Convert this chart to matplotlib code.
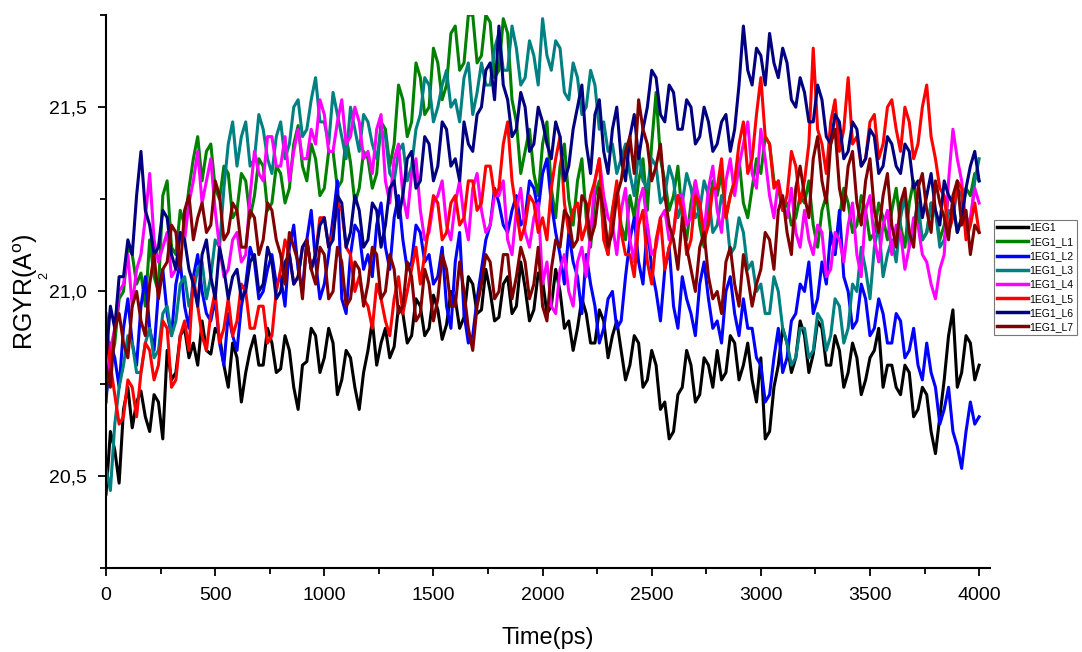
import numpy as np
import matplotlib
matplotlib.use("Agg")
import matplotlib.pyplot as plt
from matplotlib.ticker import MultipleLocator, FuncFormatter

plt.rcParams["font.family"] = ["Liberation Sans", "DejaVu Sans"]
plt.rcParams["mathtext.fontset"] = "custom"
plt.rcParams["mathtext.rm"] = "Liberation Sans"

# radius of gyration traces, one value every 20 ps
time_ps = np.arange(0, 4001, 20)

rg_1eg1 = [
    20.45, 20.62, 20.57, 20.48, 20.68, 20.74, 20.63, 20.70, 20.73, 20.66,
    20.62, 20.72, 20.70, 20.60, 20.84, 20.76, 20.78, 20.88, 20.90, 20.82,
    20.86, 20.80, 20.92, 20.84, 20.83, 20.90, 20.88, 20.80, 20.74, 20.86,
    20.82, 20.70, 20.78, 20.84, 20.88, 20.80, 20.80, 20.90, 20.86, 20.78,
    20.79, 20.88, 20.84, 20.74, 20.68, 20.80, 20.81, 20.90, 20.88, 20.78,
    20.82, 20.90, 20.86, 20.72, 20.76, 20.84, 20.82, 20.74, 20.68, 20.78,
    20.84, 20.92, 20.80, 20.86, 20.90, 20.82, 20.85, 20.96, 20.94, 20.86,
    20.88, 20.98, 20.96, 20.88, 20.90, 20.99, 20.95, 20.87, 20.91, 21.00,
    20.98, 20.90, 20.93, 21.04, 21.02, 20.94, 20.95, 21.06, 21.00, 20.92,
    20.93, 21.02, 21.04, 20.94, 20.96, 21.08, 21.01, 20.92, 20.95, 21.05,
    21.03, 20.94, 20.96, 21.06, 21.00, 20.90, 20.92, 20.84, 20.90, 20.98,
    20.94, 20.86, 20.86, 20.95, 20.92, 20.82, 20.88, 20.92, 20.84, 20.76,
    20.80, 20.88, 20.86, 20.74, 20.76, 20.84, 20.80, 20.68, 20.70, 20.60,
    20.62, 20.72, 20.74, 20.84, 20.80, 20.70, 20.72, 20.82, 20.80, 20.74,
    20.84, 20.76, 20.78, 20.88, 20.86, 20.76, 20.80, 20.86, 20.76, 20.70,
    20.82, 20.60, 20.62, 20.74, 20.80, 20.90, 20.86, 20.78, 20.82, 20.92,
    20.88, 20.78, 20.83, 20.92, 20.90, 20.80, 20.80, 20.88, 20.84, 20.74,
    20.78, 20.86, 20.82, 20.72, 20.76, 20.82, 20.84, 20.90, 20.74, 20.80,
    20.80, 20.74, 20.72, 20.80, 20.78, 20.66, 20.68, 20.74, 20.72, 20.62,
    20.56, 20.66, 20.76, 20.88, 20.95, 20.74, 20.78, 20.88, 20.86, 20.76,
    20.80,
]
rg_l1 = [
    20.72, 20.80, 20.86, 20.98, 21.00, 21.12, 21.10, 21.02, 21.05, 20.96,
    21.14, 21.04, 21.00, 21.26, 21.30, 21.12, 21.10, 21.22, 21.18, 21.28,
    21.36, 21.42, 21.30, 21.38, 21.40, 21.28, 21.25, 21.34, 21.32, 21.20,
    21.22, 21.32, 21.30, 21.20, 21.26, 21.36, 21.34, 21.22, 21.24, 21.34,
    21.32, 21.24, 21.28, 21.40, 21.45, 21.34, 21.30, 21.40, 21.36, 21.26,
    21.28, 21.38, 21.38, 21.28, 21.30, 21.42, 21.35, 21.24, 21.28, 21.38,
    21.36, 21.28, 21.32, 21.46, 21.44, 21.34, 21.40, 21.56, 21.52, 21.42,
    21.46, 21.62, 21.58, 21.48, 21.50, 21.66, 21.62, 21.52, 21.56, 21.70,
    21.72, 21.60, 21.62, 21.75, 21.75, 21.62, 21.64, 21.75, 21.73, 21.58,
    21.60, 21.74, 21.70, 21.52, 21.46, 21.32, 21.38, 21.44, 21.32, 21.26,
    21.40, 21.46, 21.28, 21.20, 21.34, 21.40, 21.25, 21.18, 21.30, 21.36,
    21.20, 21.12, 21.26, 21.30, 21.16, 21.10, 21.22, 21.28, 21.18, 21.14,
    21.26, 21.20, 21.30, 21.36, 21.22, 21.40, 21.54, 21.36, 21.30, 21.22,
    21.26, 21.34, 21.20, 21.14, 21.24, 21.30, 21.18, 21.12, 21.22, 21.30,
    21.26, 21.32, 21.20, 21.26, 21.30, 21.36, 21.24, 21.20, 21.28, 21.36,
    21.32, 21.42, 21.40, 21.30, 21.28, 21.22, 21.24, 21.18, 21.20, 21.26,
    21.24, 21.30, 21.18, 21.12, 21.22, 21.26, 21.16, 21.10, 21.20, 21.28,
    21.24, 21.16, 21.18, 21.26, 21.22, 21.14, 21.16, 21.24, 21.20, 21.14,
    21.22, 21.28, 21.18, 21.12, 21.24, 21.30, 21.20, 21.14, 21.16, 21.24,
    21.22, 21.14, 21.18, 21.26, 21.24, 21.16, 21.20, 21.28, 21.26, 21.32,
    21.30,
]
rg_l2 = [
    20.70, 20.86, 20.82, 20.74, 20.90, 20.98, 20.86, 20.80, 20.96, 21.04,
    20.90, 20.84, 21.00, 21.06, 20.94, 20.88, 21.02, 21.08, 20.96, 20.90,
    21.04, 21.10, 21.00, 20.94, 20.92, 20.98, 20.86, 20.80, 20.94, 20.88,
    20.84, 20.96, 21.02, 21.12, 21.08, 20.98, 21.00, 21.06, 21.10, 21.02,
    21.04, 20.96, 21.12, 21.18, 21.06, 21.00, 21.14, 21.22, 21.08, 20.98,
    21.02, 21.10, 21.20, 21.30, 20.98, 20.94, 21.10, 21.18, 21.16, 21.06,
    21.10, 21.04, 21.18, 21.24, 21.12, 21.06, 21.20, 21.26, 21.14, 21.06,
    21.08, 21.18, 21.16, 21.08, 21.10, 21.02, 21.04, 21.12, 20.96, 20.90,
    21.08, 21.16, 20.94, 20.86, 20.88, 20.98, 21.06, 21.14, 21.18, 21.28,
    21.24, 21.18, 21.16, 21.22, 21.26, 21.18, 21.20, 21.30, 21.28, 21.22,
    21.32, 21.36, 21.24, 21.16, 21.10, 21.02, 21.16, 21.08, 21.04, 20.94,
    21.10, 21.02, 20.96, 20.86, 20.90, 20.98, 21.00, 20.90, 20.92, 21.04,
    21.14, 21.20, 21.08, 21.02, 21.18, 21.06, 21.00, 20.92, 21.06, 21.12,
    20.96, 20.90, 21.04, 20.98, 20.94, 20.88, 21.02, 21.08, 20.98, 20.90,
    20.92, 20.86, 21.00, 21.04, 20.94, 20.88, 20.98, 20.90, 20.90, 20.82,
    20.80, 20.70, 20.72, 20.82, 20.90, 20.78, 20.82, 20.92, 20.94, 21.02,
    21.00, 21.08, 20.94, 20.98, 21.08, 21.02, 21.16, 21.10, 21.22, 21.04,
    21.00, 20.90, 20.92, 21.02, 20.98, 20.88, 20.90, 20.98, 20.94, 20.86,
    20.86, 20.94, 20.92, 20.82, 20.84, 20.90, 20.80, 20.76, 20.86, 20.78,
    20.74, 20.64, 20.68, 20.74, 20.62, 20.58, 20.52, 20.62, 20.70, 20.64,
    20.66,
]
rg_l3 = [
    20.52, 20.46, 20.64, 20.74, 20.80, 20.88, 20.86, 20.78, 20.78, 20.86,
    20.90, 20.82, 20.84, 20.94, 20.96, 20.88, 20.92, 21.02, 21.04, 20.96,
    21.00, 21.06, 21.08, 20.98, 21.04, 21.14, 21.12, 21.28, 21.40, 21.46,
    21.34, 21.42, 21.46, 21.34, 21.36, 21.48, 21.44, 21.36, 21.32, 21.42,
    21.46, 21.36, 21.40, 21.50, 21.52, 21.42, 21.44, 21.52, 21.58, 21.46,
    21.46, 21.40, 21.54, 21.48, 21.42, 21.36, 21.50, 21.44, 21.38, 21.48,
    21.46, 21.40, 21.36, 21.44, 21.42, 21.32, 21.30, 21.38, 21.40, 21.30,
    21.34, 21.44, 21.48, 21.58, 21.56, 21.46, 21.50, 21.56, 21.60, 21.50,
    21.52, 21.46, 21.58, 21.62, 21.48, 21.54, 21.62, 21.56, 21.56, 21.66,
    21.70, 21.60, 21.60, 21.72, 21.66, 21.56, 21.58, 21.68, 21.64, 21.56,
    21.74, 21.64, 21.60, 21.68, 21.66, 21.54, 21.52, 21.62, 21.58, 21.48,
    21.50, 21.60, 21.56, 21.44, 21.46, 21.38, 21.40, 21.32, 21.36, 21.40,
    21.32, 21.26, 21.38, 21.30, 21.28, 21.36, 21.34, 21.24, 21.26, 21.34,
    21.30, 21.20, 21.24, 21.32, 21.28, 21.20, 21.22, 21.30, 21.26, 21.16,
    21.18, 21.26, 21.22, 21.10, 21.12, 21.20, 21.16, 21.06, 21.08, 21.00,
    21.02, 20.94, 20.94, 21.04, 21.00, 20.90, 20.86, 20.80, 20.82, 20.90,
    20.90, 20.82, 20.84, 20.94, 20.92, 20.84, 20.88, 20.98, 20.96, 20.86,
    20.90, 21.02, 21.00, 21.12, 21.06, 20.98, 21.12, 21.18, 21.04, 21.10,
    21.14, 21.08, 21.20, 21.26, 21.12, 21.18, 21.24, 21.14, 21.16, 21.24,
    21.22, 21.12, 21.14, 21.22, 21.20, 21.28, 21.26, 21.16, 21.18, 21.30,
    21.36,
]
rg_l4 = [
    20.76, 20.84, 20.90, 21.00, 21.02, 21.10, 20.96, 21.06, 21.10, 21.20,
    21.32, 21.14, 21.08, 21.12, 21.16, 21.04, 21.06, 21.16, 21.14, 21.24,
    21.30, 21.38, 21.24, 21.30, 21.36, 21.22, 21.12, 21.04, 21.06, 21.14,
    21.16, 21.08, 21.10, 21.26, 21.38, 21.32, 21.30, 21.42, 21.42, 21.34,
    21.34, 21.42, 21.30, 21.38, 21.44, 21.36, 21.36, 21.44, 21.40, 21.52,
    21.48, 21.38, 21.38, 21.46, 21.52, 21.40, 21.42, 21.50, 21.46, 21.36,
    21.38, 21.32, 21.44, 21.48, 21.30, 21.24, 21.36, 21.40, 21.26, 21.20,
    21.32, 21.36, 21.22, 21.14, 21.16, 21.24, 21.26, 21.30, 21.18, 21.14,
    21.24, 21.30, 21.20, 21.14, 21.28, 21.32, 21.22, 21.16, 21.18, 21.26,
    21.26, 21.30, 21.14, 21.10, 21.22, 21.28, 21.16, 21.12, 21.20, 21.24,
    21.02, 21.08, 20.96, 20.94, 21.06, 21.10, 21.00, 20.96, 21.08, 21.12,
    21.04, 21.16, 21.30, 21.36, 21.26, 21.20, 21.18, 21.10, 21.22, 21.28,
    21.14, 21.08, 21.24, 21.28, 21.18, 21.10, 21.12, 21.20, 21.22, 21.14,
    21.16, 21.26, 21.26, 21.18, 21.20, 21.30, 21.24, 21.16, 21.28, 21.34,
    21.22, 21.16, 21.30, 21.36, 21.26, 21.34, 21.40, 21.46, 21.32, 21.28,
    21.44, 21.36, 21.26, 21.20, 21.30, 21.24, 21.20, 21.28, 21.16, 21.12,
    21.22, 21.14, 21.10, 21.18, 21.16, 21.04, 21.06, 21.16, 21.14, 21.08,
    21.18, 21.24, 21.10, 21.04, 21.22, 21.26, 21.14, 21.08, 21.18, 21.22,
    21.10, 21.18, 21.16, 21.06, 21.12, 21.20, 21.18, 21.10, 21.08, 21.02,
    20.98, 21.06, 21.10, 21.30, 21.44, 21.36, 21.30, 21.18, 21.20, 21.28,
    21.24,
]
rg_l5 = [
    20.94, 20.80, 20.72, 20.64, 20.66, 20.76, 20.74, 20.66, 20.78, 20.86,
    20.84, 20.76, 20.80, 20.92, 20.90, 20.74, 20.76, 20.88, 20.92, 20.84,
    21.04, 20.96, 20.88, 20.84, 20.94, 21.00, 20.86, 20.90, 20.98, 20.88,
    20.92, 21.02, 21.00, 20.90, 20.90, 20.96, 20.96, 20.86, 20.88, 21.00,
    21.06, 21.14, 21.10, 21.02, 21.04, 21.12, 21.14, 21.06, 21.10, 21.20,
    21.20, 21.12, 21.16, 21.24, 21.22, 21.12, 21.10, 21.00, 21.04, 20.98,
    20.96, 20.90, 21.02, 20.98, 20.92, 20.88, 20.98, 21.04, 20.94, 21.00,
    21.06, 21.12, 21.02, 21.10, 21.18, 21.26, 21.24, 21.14, 21.16, 21.24,
    21.26, 21.18, 21.20, 21.30, 21.30, 21.22, 21.24, 21.34, 21.34, 21.26,
    21.28, 21.40, 21.46, 21.30, 21.22, 21.14, 21.18, 21.26, 21.24, 21.16,
    21.20, 21.14, 21.28, 21.36, 21.42, 21.24, 21.16, 21.22, 21.24, 21.14,
    21.18, 21.26, 21.30, 21.36, 21.14, 21.10, 21.22, 21.30, 21.16, 21.10,
    21.10, 21.04, 21.18, 21.22, 21.08, 21.02, 21.14, 21.20, 21.06, 21.12,
    21.16, 21.26, 21.22, 21.10, 21.14, 21.26, 21.24, 21.14, 21.18, 21.28,
    21.28, 21.36, 21.20, 21.26, 21.30, 21.40, 21.46, 21.32, 21.36, 21.48,
    21.58, 21.42, 21.40, 21.28, 21.30, 21.22, 21.26, 21.38, 21.34, 21.24,
    21.30, 21.40, 21.66, 21.44, 21.40, 21.32, 21.46, 21.52, 21.38, 21.44,
    21.58, 21.40, 21.42, 21.34, 21.36, 21.46, 21.48, 21.36, 21.40, 21.50,
    21.52, 21.44, 21.38, 21.50, 21.46, 21.36, 21.40, 21.50, 21.56, 21.42,
    21.36, 21.28, 21.26, 21.16, 21.20, 21.30, 21.28, 21.14, 21.18, 21.24,
    21.16,
]
rg_l6 = [
    20.82, 20.96, 20.90, 21.04, 21.04, 21.14, 21.10, 21.26, 21.38, 21.22,
    21.18, 21.10, 21.12, 21.22, 21.20, 21.10, 21.06, 21.16, 21.14, 21.06,
    21.02, 20.96, 21.10, 21.14, 21.04, 20.98, 21.12, 21.06, 20.98, 21.04,
    21.06, 20.98, 21.00, 21.08, 21.10, 21.00, 21.02, 21.12, 21.08, 20.98,
    21.00, 21.08, 21.10, 21.02, 21.04, 21.12, 21.14, 21.06, 21.10, 21.18,
    21.20, 21.12, 21.14, 21.26, 21.24, 21.12, 21.16, 21.26, 21.22, 21.12,
    21.14, 21.24, 21.22, 21.12, 21.18, 21.28, 21.30, 21.20, 21.26, 21.36,
    21.38, 21.28, 21.30, 21.42, 21.40, 21.30, 21.34, 21.46, 21.44, 21.34,
    21.36, 21.30, 21.46, 21.40, 21.38, 21.48, 21.50, 21.60, 21.62, 21.52,
    21.72, 21.56, 21.52, 21.42, 21.44, 21.54, 21.50, 21.38, 21.40, 21.50,
    21.46, 21.40, 21.36, 21.46, 21.42, 21.30, 21.34, 21.44, 21.50, 21.56,
    21.40, 21.32, 21.48, 21.52, 21.38, 21.32, 21.44, 21.50, 21.36, 21.30,
    21.42, 21.48, 21.36, 21.44, 21.50, 21.60, 21.58, 21.48, 21.46, 21.56,
    21.54, 21.44, 21.44, 21.52, 21.50, 21.40, 21.42, 21.50, 21.46, 21.38,
    21.40, 21.46, 21.48, 21.38, 21.44, 21.56, 21.72, 21.60, 21.56, 21.66,
    21.64, 21.56, 21.70, 21.62, 21.58, 21.66, 21.62, 21.52, 21.50, 21.58,
    21.54, 21.46, 21.46, 21.56, 21.52, 21.42, 21.40, 21.48, 21.46, 21.36,
    21.38, 21.46, 21.44, 21.34, 21.36, 21.44, 21.42, 21.32, 21.34, 21.42,
    21.40, 21.34, 21.32, 21.40, 21.38, 21.28, 21.30, 21.20, 21.26, 21.32,
    21.22, 21.18, 21.30, 21.26, 21.24, 21.16, 21.20, 21.28, 21.34, 21.38,
    21.30,
]
rg_l7 = [
    20.80, 20.74, 20.90, 20.94, 20.86, 20.82, 20.96, 21.00, 20.92, 20.88,
    21.02, 21.10, 20.98, 21.06, 21.08, 21.18, 21.16, 21.06, 21.22, 21.26,
    21.14, 21.20, 21.24, 21.16, 21.18, 21.30, 21.26, 21.14, 21.16, 21.24,
    21.22, 21.12, 21.12, 21.22, 21.20, 21.10, 21.14, 21.24, 21.22, 21.14,
    21.10, 21.02, 21.16, 21.12, 21.08, 20.98, 21.14, 21.06, 21.02, 21.12,
    21.10, 20.98, 21.00, 21.12, 21.08, 20.96, 20.98, 21.08, 21.06, 20.96,
    21.02, 21.12, 21.10, 20.98, 21.00, 21.10, 21.06, 20.94, 20.96, 21.08,
    21.04, 20.92, 20.94, 21.06, 21.02, 20.92, 20.98, 21.10, 21.06, 20.96,
    20.96, 21.08, 21.00, 20.90, 20.84, 20.96, 21.02, 21.10, 21.08, 20.98,
    21.00, 21.10, 21.10, 20.98, 21.04, 21.12, 21.08, 20.98, 21.02, 21.12,
    20.96, 20.92, 21.06, 21.14, 21.12, 21.22, 21.20, 21.12, 21.14, 21.26,
    21.24, 21.14, 21.18, 21.28, 21.22, 21.12, 21.16, 21.26, 21.30, 21.38,
    21.42, 21.32, 21.52, 21.44, 21.40, 21.30, 21.34, 21.40, 21.26, 21.18,
    21.14, 21.06, 21.20, 21.12, 21.06, 21.00, 21.12, 21.16, 21.04, 20.98,
    21.00, 20.94, 21.08, 21.12, 21.02, 20.96, 21.10, 21.04, 20.96, 21.02,
    21.06, 21.16, 21.14, 21.06, 21.22, 21.26, 21.16, 21.10, 21.28, 21.34,
    21.26, 21.20, 21.36, 21.42, 21.30, 21.24, 21.40, 21.44, 21.28, 21.22,
    21.34, 21.38, 21.24, 21.18, 21.30, 21.36, 21.22, 21.16, 21.26, 21.32,
    21.18, 21.12, 21.24, 21.28, 21.16, 21.12, 21.28, 21.32, 21.22, 21.16,
    21.30, 21.24, 21.20, 21.14, 21.26, 21.30, 21.18, 21.22, 21.10, 21.18,
    21.16,
]

labels = ["1EG1", "1EG1_L1", "1EG1_L2", "1EG1_L3",
          "1EG1_L4", "1EG1_L5", "1EG1_L6", "1EG1_L7"]
series = [rg_1eg1, rg_l1, rg_l2, rg_l3, rg_l4, rg_l5, rg_l6, rg_l7]
colors = ["#000000", "#008000", "#0000FF", "#008080",
          "#FF00FF", "#FF0000", "#000080", "#800000"]

fig = plt.figure(figsize=(10.82, 6.52), dpi=100)
ax = fig.add_axes([0.098, 0.129, 0.817, 0.848])

for vals, lab, col in zip(series, labels, colors):
    ax.plot(time_ps, vals, color=col, lw=2.2, label=lab)

ax.set_xlim(0, 4050)
ax.set_ylim(20.25, 21.75)
ax.xaxis.set_major_locator(MultipleLocator(500))
ax.xaxis.set_minor_locator(MultipleLocator(250))
ax.yaxis.set_major_locator(MultipleLocator(0.5))
ax.yaxis.set_minor_locator(MultipleLocator(0.25))
ax.yaxis.set_major_formatter(FuncFormatter(lambda v, p: f"{v:.1f}".replace(".", ",")))

for side in ("top", "right"):
    ax.spines[side].set_visible(False)
for side in ("left", "bottom"):
    ax.spines[side].set_linewidth(1.5)
ax.tick_params(which="major", direction="out", length=6, width=1.3,
               labelsize=14, pad=8)
ax.tick_params(which="minor", direction="out", length=4, width=1.3)

ax.set_xlabel("Time(ps)", fontsize=17, labelpad=16)
ax.set_ylabel(r"RGYR(A$^{\mathrm{o}}$)", fontsize=18, labelpad=6)
fig.text(0.041, 0.578, "2", rotation=90, fontsize=9, ha="center", va="center")

leg = fig.legend(loc="upper left", bbox_to_anchor=(0.919, 0.663), fontsize=7.5,
                 frameon=True, fancybox=False, edgecolor="#555555",
                 handlelength=2.9, handletextpad=0.15, labelspacing=0.4,
                 borderpad=0.3, borderaxespad=0)
leg.get_frame().set_linewidth(0.8)
for h in leg.get_lines():
    h.set_linewidth(2.5)

fig.savefig("out.png", dpi=100)
